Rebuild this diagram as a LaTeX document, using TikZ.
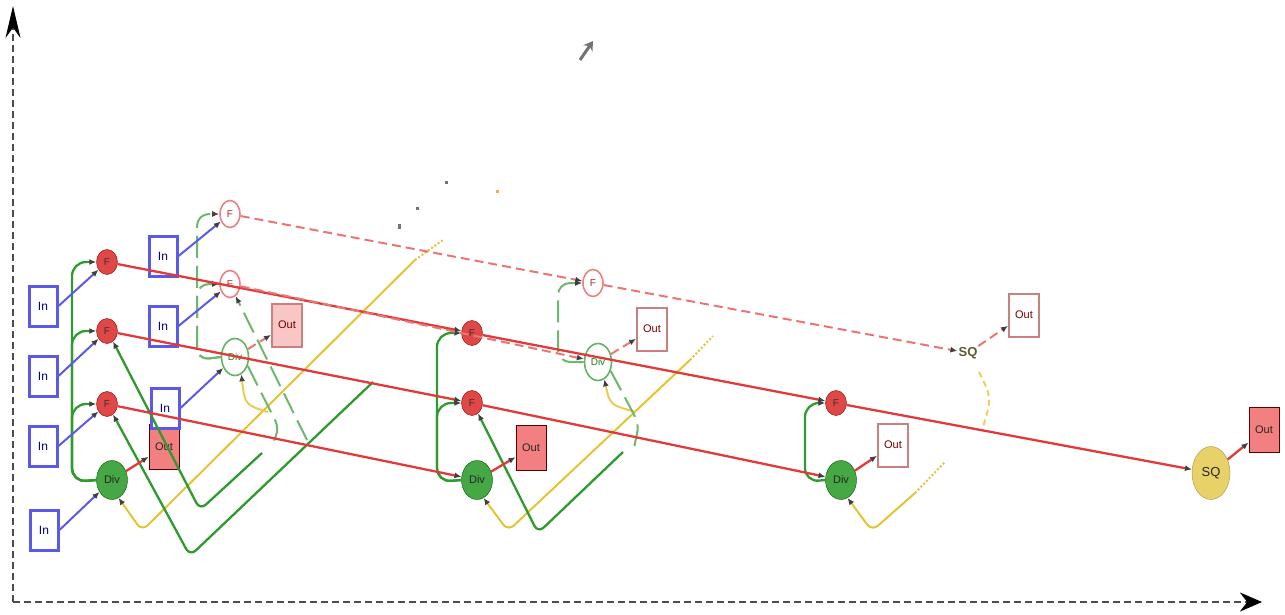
\documentclass[tikz,border=0pt]{standalone}
\usepackage{fontspec}
\setmainfont{Liberation Sans}
\usetikzlibrary{arrows.meta,shapes.geometric}
\definecolor{cblue}{HTML}{5A5AE6}
\definecolor{cred}{HTML}{E23A3A}
\definecolor{cgreen}{HTML}{2F9A2F}
\definecolor{cyel}{HTML}{E6C235}
\definecolor{nodered}{HTML}{E04848}
\definecolor{divgreen}{HTML}{45A845}
\definecolor{outfill}{HTML}{F28080}
\definecolor{sqfill}{HTML}{E8D168}
\definecolor{fadeout}{HTML}{C98080}
\definecolor{sqtext}{HTML}{5C5A30}
\tikzset{
  >={Latex[length=7pt,width=6pt,color=black!75]},
  innode/.style={draw=cblue, line width=3pt, fill=white, minimum width=28pt, minimum height=40pt, inner sep=0pt, text=blue!55!black, font=\fontsize{12}{12}\selectfont},
  fnode/.style={ellipse, draw=red!55!black, fill=nodered, minimum width=21pt, minimum height=25pt, inner sep=0pt, text=black!80, font=\fontsize{10}{10}\selectfont},
  fnodefade/.style={ellipse, draw=cred!65, line width=1.6pt, fill=white, minimum width=20pt, minimum height=27pt, inner sep=0pt, text=cred!75!black, font=\fontsize{10}{10}\selectfont},
  divnode/.style={ellipse, draw=green!35!black, fill=divgreen, minimum width=31pt, minimum height=39pt, inner sep=0pt, text=black!85, font=\fontsize{11}{11}\selectfont},
  divfade/.style={ellipse, draw=cgreen!75, line width=1.6pt, fill=white, minimum width=27pt, minimum height=37pt, inner sep=0pt, text=cgreen!80!black, font=\fontsize{10}{10}\selectfont},
  outnode/.style={draw=red!35!black, line width=1pt, fill=outfill, minimum width=30pt, minimum height=45pt, inner sep=0pt, text=black!85, font=\fontsize{11}{11}\selectfont},
  outfade/.style={draw=fadeout, line width=2pt, fill=white, minimum width=30pt, minimum height=43pt, inner sep=0pt, text=red!45!black, font=\fontsize{11}{11}\selectfont},
  sqnode/.style={ellipse, draw=sqfill!70!black, fill=sqfill, minimum width=38pt, minimum height=53pt, inner sep=0pt, text=black!85, font=\fontsize{13}{13}\selectfont},
  sqlabel/.style={inner sep=1pt, text=sqtext, font=\bfseries\fontsize{13}{13}\selectfont},
  eb/.style={draw=cblue, line width=2pt, ->},
  er/.style={draw=cred, line width=2.3pt, ->},
  erf/.style={draw=cred!70, line width=2pt, dash pattern=on 9pt off 5pt, ->},
  eg/.style={draw=cgreen, line width=2.3pt, rounded corners=14pt},
  egf/.style={draw=cgreen!70, line width=2pt, dash pattern=on 22pt off 8pt, rounded corners=12pt},
  ey/.style={draw=cyel, line width=2pt, rounded corners=8pt},
  eyf/.style={draw=cyel!80, line width=2pt, dash pattern=on 6pt off 4pt},
  axis/.style={draw=black!70, line width=2.5pt, dash pattern=on 7pt off 4pt},
  speck/.style={inner sep=0pt, minimum size=3pt, fill=#1}
}
\begin{document}
\begin{tikzpicture}[x=1pt,y=-1pt]
\useasboundingbox (0,0) rectangle (1285,615);
% axes
\coordinate (O) at (13,602);
\coordinate (Ytop) at (13,6);
\coordinate (Xend) at (1262,602);
\draw[axis, -{Stealth[length=32pt,width=15pt,black]}] (O) -- (Ytop);
\draw[axis, -{Stealth[length=22pt,width=19pt,black]}] (O) -- (Xend);
% stray marks
\coordinate (st1) at (580,60);
\coordinate (st2) at (593,41);
\draw[black!55, line width=3pt, -{Stealth[length=9pt,width=11pt,black!55]}] (st1) -- (st2);
\node[speck=black!55] (d1) at (446,182) {};
\node[speck=orange!70] (d2) at (497,191) {};
\node[speck=black!55] (d3) at (417,208) {};
\node[speck=black!55, minimum height=5pt] (d4) at (399,226) {};

% ---------- nodes ----------
\node[innode] (In1) at (43,306) {In};
\node[innode] (In2) at (43,376) {In};
\node[innode] (In3) at (43,446) {In};
\node[innode] (In4) at (44,530) {In};
\node[fnode] (F1) at (107,262) {F};
\node[fnode] (F2) at (107,331) {F};
\node[fnode] (F3) at (107,404) {F};
\node[divnode] (Div1) at (112,480) {Div};
\node[outnode] (Out1) at (164,447) {Out};

\node[innode] (InB1) at (163,256) {In};
\node[innode] (InB2) at (163,326) {In};
\node[innode] (InB3) at (165,408) {In};
\node[fnodefade] (FB1) at (230,214) {F};
\node[fnodefade] (FB2) at (230,284) {F};
\node[divfade] (DivB) at (235,357) {Div};
\node[outfade, fill=outfill!45] (OutB) at (287,325) {Out};

\node[fnode] (F2u) at (472,333) {F};
\node[fnode] (F2l) at (472,403) {F};
\node[divnode] (Div2) at (477,480) {Div};
\node[outnode] (Out2) at (531,448) {Out};

\node[fnodefade] (FC) at (593,283) {F};
\node[divfade] (DivC) at (598,362) {Div};
\node[outfade] (OutC) at (652,329) {Out};

\node[fnode] (Fs3) at (836,403) {F};
\node[divnode] (Div3) at (841,480) {Div};
\node[outfade] (Out3) at (893,445) {Out};

\node[sqlabel] (SQt) at (968,353) {SQ};
\node[outfade] (OutT) at (1024,315) {Out};

\node[sqnode] (SQ) at (1211,473) {SQ};
\node[outnode] (OutF) at (1264,430) {Out};

% ---------- coordinates ----------
\coordinate (s1a) at (72,482);
\coordinate (s1b) at (72,262);
\coordinate (s1c) at (72,331);
\coordinate (s1d) at (72,404);
\coordinate (s2a) at (437,482);
\coordinate (s2b) at (437,333);
\coordinate (s2c) at (437,403);
\coordinate (s3a) at (805,482);
\coordinate (s3b) at (805,403);
\coordinate (sBa) at (197,360);
\coordinate (sBb) at (197,214);
\coordinate (sBc) at (197,284);
\coordinate (sCa) at (558,362);
\coordinate (sCb) at (558,283);

\coordinate (g1e) at (262,453);
\coordinate (g1c) at (200,510);
\coordinate (g2e) at (373,382);
\coordinate (g2c) at (190,556);
\coordinate (g3e) at (307,440);
\coordinate (g4c) at (279,428);
\coordinate (g4e) at (272,446);
\coordinate (g5e) at (623,452);
\coordinate (g5c) at (538,533);
\coordinate (g6c) at (639,424);
\coordinate (g6e) at (634,448);

\coordinate (y1c) at (142,531);
\coordinate (y1m) at (415,260);
\coordinate (y1e) at (443,240);
\coordinate (y2c) at (508,531);
\coordinate (y2m) at (690,360);
\coordinate (y2e) at (713,336);
\coordinate (y3c) at (872,531);
\coordinate (y3m) at (915,493);
\coordinate (y3e) at (945,462);
\coordinate (y4a) at (979,372);
\coordinate (y4b) at (982,430);
\coordinate (y5e) at (268,412);
\coordinate (y6e) at (636,412);

% ---------- yellow ----------
\draw[ey,<-] (Div1.290) -- (y1c) -- (y1m);
\draw[cyel, line width=2pt, dotted] (y1m) -- (y1e);
\draw[ey,<-] (Div2.290) -- (y2c) -- (y2m);
\draw[cyel, line width=2pt, dotted] (y2m) -- (y2e);
\draw[ey,<-] (Div3.290) -- (y3c) -- (y3m);
\draw[cyel, line width=2pt, dotted] (y3m) -- (y3e);
\draw[eyf] (y4a) .. controls (992,398) .. (y4b);
\draw[cyel!85, line width=2pt, <-] (DivB.290) .. controls (245,405) .. (y5e);
\draw[cyel!85, line width=2pt, <-] (DivC.290) .. controls (610,405) .. (y6e);

% ---------- green ----------
\draw[eg,->] (Div1.west) -- (s1a) -- (s1b) -- (F1.west);
\draw[eg,->] (Div1.west) -- (s1a) -- (s1c) -- (F2.west);
\draw[eg,->] (Div1.west) -- (s1a) -- (s1d) -- (F3.west);
\draw[eg,->] (Div2.west) -- (s2a) -- (s2b) -- (F2u.west);
\draw[eg,->] (Div2.west) -- (s2a) -- (s2c) -- (F2l.west);
\draw[eg,->] (Div3.west) -- (s3a) -- (s3b) -- (Fs3.west);
\draw[egf,->] (DivB.west) -- (sBa) -- (sBb) -- (FB1.west);
\draw[egf,->] (DivB.west) -- (sBa) -- (sBc) -- (FB2.west);
\draw[egf,->] (DivC.west) -- (sCa) -- (sCb) -- (FC.west);

\draw[eg, rounded corners=8pt, ->] (g1e) -- (g1c) -- (F2.300);
\draw[eg, rounded corners=8pt, ->] (g2e) -- (g2c) -- (F3.300);
\draw[egf, rounded corners=8pt, ->] (g3e) -- (FB2.295);
\draw[egf, rounded corners=8pt] (DivB.-35) -- (g4c) -- (g4e);
\draw[eg, rounded corners=8pt, ->] (g5e) -- (g5c) -- (F2l.300);
\draw[egf, rounded corners=8pt] (DivC.-35) -- (g6c) -- (g6e);

% ---------- blue ----------
\draw[eb] (In1.east) -- (F1);
\draw[eb] (In2.east) -- (F2);
\draw[eb] (In3.east) -- (F3);
\draw[eb] (In4.east) -- (Div1);
\draw[eb] (InB1.east) -- (FB1);
\draw[eb] (InB2.east) -- (FB2);
\draw[eb] (InB3.east) -- (DivB);

% ---------- red ----------
\draw[er] (F1) -- (F2u);
\draw[er] (F2) -- (F2l);
\draw[er] (F3) -- (Div2);
\draw[er] (F2u) -- (Fs3);
\draw[er] (F2l) -- (Div3);
\draw[er] (Fs3) -- (SQ);
\draw[er] (Div1) -- (Out1);
\draw[er] (Div2) -- (Out2);
\draw[er] (Div3) -- (Out3);
\draw[er] (SQ) -- (OutF);
\draw[erf] (FB1) -- (FC);
\draw[erf] (FB2) -- (DivC);
\draw[erf] (FC) -- (SQt);
\draw[erf] (DivB) -- (OutB);
\draw[erf] (DivC) -- (OutC);
\draw[erf] (SQt) -- (OutT);
\end{tikzpicture}
\end{document}
